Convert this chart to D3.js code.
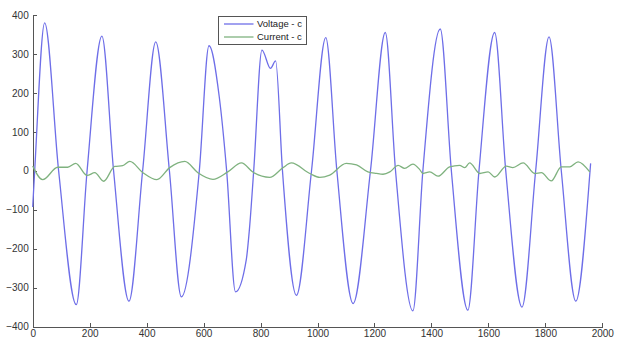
<!DOCTYPE html>
<html>
<head>
<meta charset="utf-8">
<script src="https://cdn.jsdelivr.net/npm/d3@7"></script>
<style>
  body { margin: 0; background: #fff; }
  svg { display: block; font-family: "Liberation Sans", Arial, sans-serif; }
</style>
</head>
<body>
<svg id="chart" width="626" height="338"></svg>
<script>
// Tick values for both axes
const sampleTicks = [0, 200, 400, 600, 800, 1000, 1200, 1400, 1600, 1800, 2000];
const valueTicks = [-400, -300, -200, -100, 0, 100, 200, 300, 400];

// Legend entries
const seriesNames = ["Voltage - c", "Current - c"];

// Phase c voltage: sample index and value
const voltageIndex = [0, 7, 42, 91, 153, 191, 243, 284, 338, 386, 432, 480, 522, 585, 619, 655, 681, 712, 750, 761, 776, 805, 835, 853, 877, 926, 979, 1029, 1068, 1125, 1186, 1238, 1274, 1335, 1370, 1431, 1470, 1528, 1567, 1622, 1661, 1718, 1766, 1813, 1856, 1907, 1957, 1959];
const voltageValues = [-93, 0, 380, 0, -344, 0, 346, 0, -335, 0, 331, 0, -324, 0, 321, 190, 0, -311, -228, -150, 0, 310, 263, 282, 0, -320, 0, 342, 0, -341, 0, 355, 0, -360, 0, 364, 0, -358, 0, 355, 0, -350, 0, 344, 0, -335, 0, 19];

// Phase c current: sample index and value
const currentIndex = [0, 35, 88, 123, 151, 191, 218, 249, 288, 316, 341, 387, 436, 481, 534, 580, 633, 685, 733, 774, 832, 879, 908, 973, 1008, 1043, 1101, 1137, 1177, 1207, 1230, 1254, 1283, 1306, 1335, 1359, 1370, 1394, 1423, 1464, 1499, 1517, 1534, 1570, 1599, 1622, 1663, 1686, 1722, 1763, 1786, 1821, 1856, 1886, 1915, 1956];
const currentValues = [12, -23, 9, 9, 19, -12, -5, -27, 11, 13, 24, -5, -23, 8, 24, -5, -22, -3, 20, -4, -17, 8, 20, -7, -17, -11, 19, 15, -3, -7, -9, -3, 14, 6, 17, 3, -7, -3, -14, 10, 14, 8, 20, -7, -3, -16, 12, 8, 20, -7, -5, -26, 10, 10, 23, -3];

const svg = d3.select("#chart");

const x = d3.scaleLinear().domain([0, 2000]).range([32.7, 602.3]);
const y = d3.scaleLinear().domain([-400, 400]).range([326.5, 15]);

const colors = ["#6e6ee8", "#7fb27f"];

// Axes with inward ticks
const xAxis = d3.axisBottom(x).tickValues(sampleTicks).tickFormat(d3.format("d"))
  .tickSizeInner(-4).tickSizeOuter(0).tickPadding(3);
const yAxis = d3.axisLeft(y).tickValues(valueTicks).tickFormat(d3.format("d"))
  .tickSizeInner(-4).tickSizeOuter(0).tickPadding(4);

const gx = svg.append("g").attr("transform", `translate(0,${y(-400)})`).call(xAxis);
const gy = svg.append("g").attr("transform", `translate(${x(0)},0)`).call(yAxis);

[gx, gy].forEach(g => {
  g.select(".domain").attr("stroke", "#555").attr("shape-rendering", "crispEdges");
  g.selectAll(".tick line").attr("stroke", "#555").attr("shape-rendering", "crispEdges");
  g.selectAll(".tick text").attr("fill", "#333").style("font-size", "10px")
    .style("font-family", "'Liberation Sans', Arial, sans-serif");
});

// Series lines
const line = d3.line()
  .x(d => x(d[0]))
  .y(d => y(d[1]))
  .curve(d3.curveMonotoneX);

const voltage = voltageIndex.map((t, i) => [t, voltageValues[i]]);
const current = currentIndex.map((t, i) => [t, currentValues[i]]);

svg.append("path").datum(voltage)
  .attr("fill", "none").attr("stroke", colors[0]).attr("stroke-width", 1.3)
  .attr("d", line);

svg.append("path").datum(current)
  .attr("fill", "none").attr("stroke", colors[1]).attr("stroke-width", 1.3)
  .attr("d", line);

// Legend
const legend = svg.append("g").attr("transform", "translate(218.5,16.5)");
legend.append("rect").attr("width", 88).attr("height", 28)
  .attr("fill", "#fff").attr("stroke", "#555").attr("shape-rendering", "crispEdges");

seriesNames.forEach((name, i) => {
  const row = legend.append("g").attr("transform", `translate(0,${7.5 + i * 13})`);
  row.append("line").attr("x1", 5.5).attr("x2", 35).attr("y1", 0).attr("y2", 0)
    .attr("stroke", colors[i]).attr("stroke-width", 1.3);
  row.append("text").attr("x", 38.5).attr("y", 0).attr("dy", "0.35em")
    .attr("fill", "#222").style("font-size", "9.5px").text(name);
});
</script>
</body>
</html>
